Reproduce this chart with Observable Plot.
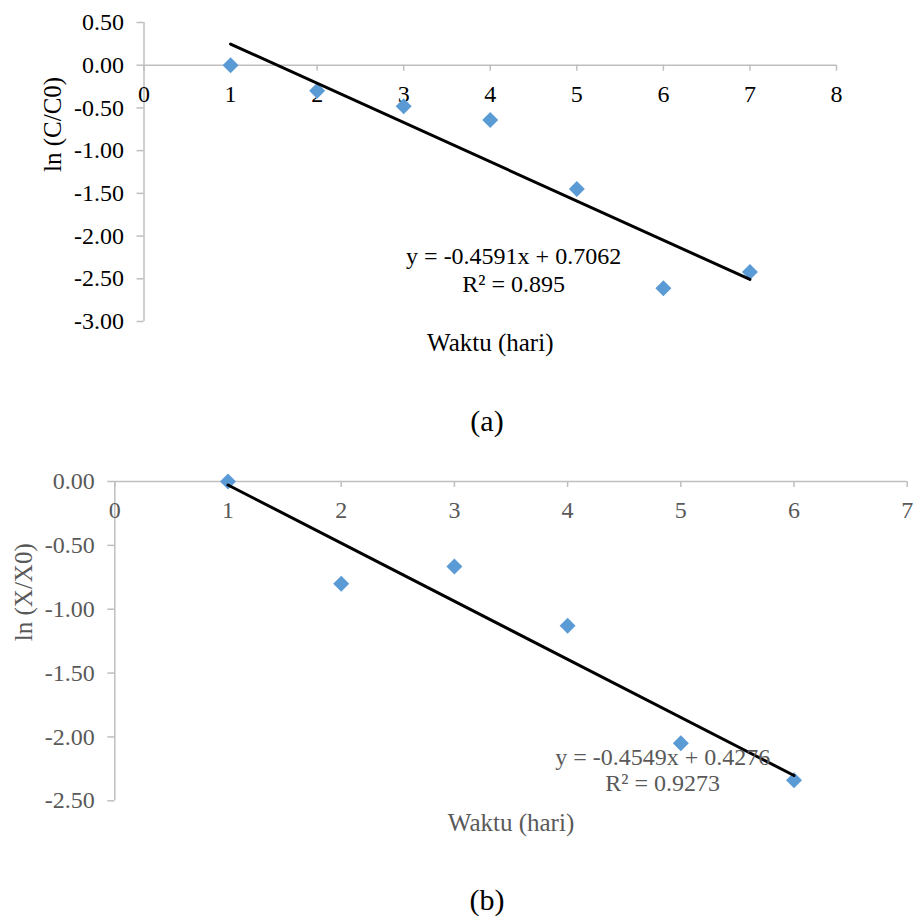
<!DOCTYPE html>
<html><head><meta charset="utf-8">
<script src="https://cdn.jsdelivr.net/npm/d3@7"></script>
<script src="https://cdn.jsdelivr.net/npm/@observablehq/plot@0.6"></script>
<style>
html,body{margin:0;padding:0;background:#fff;}
#wrap{position:relative;width:915px;height:918px;overflow:hidden;font-family:"Liberation Serif","Times New Roman",serif;}
.panel{position:absolute;left:0;}
.cap{position:absolute;transform:translateX(-50%);font-size:30px;line-height:30px;color:#000;white-space:nowrap;}
</style></head><body>
<div id="wrap">
  <div id="pa" class="panel" style="top:0px"></div>
  <div class="cap" style="left:487px;top:406px">(a)</div>
  <div id="pb" class="panel" style="top:440px"></div>
  <div class="cap" style="left:487px;top:885px">(b)</div>
</div>
<script>
// ---- Data (a) ----
const daysA = [1, 2, 3, 4, 5, 6, 7];
const lnC = [0.00, -0.30, -0.48, -0.64, -1.45, -2.61, -2.42];
const xTicksA = [0, 1, 2, 3, 4, 5, 6, 7, 8];
const yTicksA = [0.5, 0, -0.5, -1, -1.5, -2, -2.5, -3];
const slopeA = -0.4591, interceptA = 0.7062;
const eqA = "y = -0.4591x + 0.7062\nR² = 0.895";

// ---- Data (b) ----
const daysB = [1, 2, 3, 4, 5, 6];
const lnX = [0.00, -0.80, -0.665, -1.13, -2.05, -2.34];
const xTicksB = [0, 1, 2, 3, 4, 5, 6, 7];
const yTicksB = [0, -0.5, -1, -1.5, -2, -2.5];
const slopeB = -0.4549, interceptB = 0.4276;
const eqB = "y = -0.4549x + 0.4276\nR² = 0.9273";

const AXIS = "#bfbfbf";
const DOT = "#5b9bd5";

function panel(cfg) {
  const pts = cfg.days.map((d, i) => ({x: d, y: cfg.vals[i]}));
  const x0 = cfg.days[0], x1 = cfg.days[cfg.days.length - 1];
  const trend = [x0, x1].map(x => ({x, y: cfg.slope * x + cfg.intercept}));
  return Plot.plot({
    width: 915,
    height: cfg.height,
    marginLeft: cfg.ml, marginRight: cfg.mr, marginTop: cfg.mt, marginBottom: cfg.mb,
    style: {fontFamily: '"Liberation Serif","Times New Roman",serif', fontSize: "24px", background: "white", color: cfg.text, overflow: "visible"},
    x: {domain: cfg.xdom, axis: null},
    y: {domain: cfg.ydom, axis: null},
    marks: [
      Plot.ruleX([0], {stroke: AXIS, strokeWidth: 1.5}),
      Plot.ruleY([0], {stroke: AXIS, strokeWidth: 1.5}),
      Plot.ruleX(cfg.xTicks, {x: d => d, y1: 0, y2: 0, insetBottom: -6, stroke: AXIS, strokeWidth: 1.5}),
      Plot.axisY(cfg.yTicks, {tickSize: 7, tickPadding: 13, tickFormat: d => d.toFixed(2), stroke: AXIS, strokeWidth: 1.5, fill: cfg.text, label: null, fontSize: 24}),
      Plot.text(cfg.xTicks, {x: d => d, y: 0, dy: 29, text: d => String(d), fill: cfg.text, fontSize: 24}),
      Plot.dot(pts, {x: "x", y: "y", symbol: "diamond2", r: 7.2, fill: DOT, stroke: null}),
      Plot.line(trend, {x: "x", y: "y", stroke: "black", strokeWidth: 3}),
      Plot.text([cfg.eq], {x: cfg.eqx, y: cfg.eqy, text: d => d, fill: cfg.text, fontSize: 24, lineHeight: cfg.lh}),
      Plot.text([cfg.ylabel], {frameAnchor: "left", dx: cfg.ylabDx, rotate: -90, text: d => d, fill: cfg.text, fontSize: 25}),
      Plot.text(["Waktu (hari)"], {frameAnchor: "bottom", lineAnchor: "middle", dy: cfg.xlabDy, text: d => d, fill: cfg.text, fontSize: 25})
    ]
  });
}

document.getElementById("pa").appendChild(panel({
  days: daysA, vals: lnC, slope: slopeA, intercept: interceptA,
  xTicks: xTicksA, yTicks: yTicksA, xdom: [0, 8], ydom: [-3, 0.5],
  height: 370, ml: 143.5, mr: 79, mt: 22, mb: 49,
  text: "#000000", eq: eqA, eqx: 4.27, eqy: -2.39, lh: 1.17,
  ylabel: "ln (C/C0)", ylabDx: -91.5, xlabDy: 21
}));

document.getElementById("pb").appendChild(panel({
  days: daysB, vals: lnX, slope: slopeB, intercept: interceptB,
  xTicks: xTicksB, yTicks: yTicksB, xdom: [0, 7], ydom: [-2.5, 0],
  height: 400, ml: 114.3, mr: 8.3, mt: 41, mb: 39.7,
  text: "#595959", eq: eqB, eqx: 4.84, eqy: -2.26, lh: 1.08,
  ylabel: "ln (X/X0)", ylabDx: -91.3, xlabDy: 22
}));
</script>
</body></html>
